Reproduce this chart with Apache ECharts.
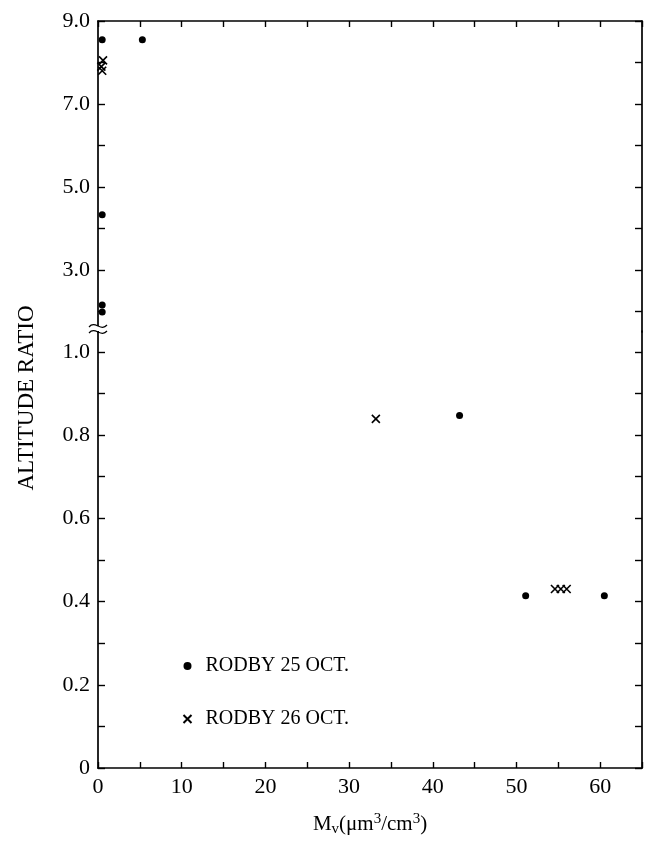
<!DOCTYPE html>
<html>
<head>
<meta charset="utf-8">
<script src="https://cdn.jsdelivr.net/npm/echarts@6/dist/echarts.min.js"></script>
<style>
  html, body { margin: 0; padding: 0; background: #fff; }
  #main { width: 649px; height: 843px; }
</style>
</head>
<body>
<div id="main"></div>
<script>
// 数据
const oct25X = [0.5, 5.3, 0.5, 0.5, 0.5, 43.2, 51.1, 60.5]
const oct25Y = [8.55, 8.55, 4.33, 2.15, 1.98, 0.847, 0.414, 0.414]
const oct26X = [0.6, 0.4, 0.5, 33.2, 54.6, 55.3, 56.0]
const oct26Y = [8.05, 7.9, 7.8, 0.839, 0.43, 0.43, 0.43]

const xLabels = [0, 10, 20, 30, 40, 50, 60]
const lowTicks = [0, 0.1, 0.2, 0.3, 0.4, 0.5, 0.6, 0.7, 0.8, 0.9, 1.0]
const lowLabels = [0, 0.2, 0.4, 0.6, 0.8, 1.0]
const highTicks = [2, 3, 4, 5, 6, 7, 8, 9]
const highLabels = [3, 5, 7, 9]

const names = ['RODBY 25 OCT.', 'RODBY 26 OCT.']
const crossPath = 'path://M0,0L10,10M10,0L0,10'
const serif = 'Liberation Serif'
const breakAt = 1.05

const toPairs = (xs, ys, upper) => xs.map((x, i) => [x, ys[i]]).filter(p => upper ? p[1] > breakAt : p[1] <= breakAt)

const lineStyle = { color: '#000', width: 1.7 }
const tickStyle = { color: '#000', width: 1.4 }
const fmt = v => v === 0 ? '0' : Number(v).toFixed(1)
const tickFont = { color: '#000', fontFamily: serif, fontSize: 22 }

const chart = echarts.init(document.getElementById('main'), null, { renderer: 'canvas' })

const grids = [
  { left: 98, right: 7, top: 21, height: 311 },
  { left: 98, right: 7, top: 331, height: 437 }
]

const xAxisBase = {
  type: 'value', min: 0, max: 65, interval: 5,
  splitLine: { show: false },
  axisLine: { show: true, lineStyle },
  axisTick: { inside: true, length: 6, lineStyle: tickStyle }
}

const dotStyle = { color: '#000', opacity: 1 }
const crossStyle = { color: 'none', borderColor: '#000', borderWidth: 1.6, opacity: 1 }

const option = {
  animation: false,
  backgroundColor: '#fff',
  grid: grids,
  xAxis: [
    { ...xAxisBase, gridIndex: 0, position: 'top', axisLabel: { show: false } },
    {
      ...xAxisBase, gridIndex: 1, position: 'bottom',
      axisLabel: { customValues: xLabels, margin: 8, ...tickFont },
      name: 'M{sub|v}(μm{sup|3}/cm{sup|3})',
      nameLocation: 'middle', nameGap: 44,
      nameTextStyle: {
        color: '#000', fontFamily: serif, fontSize: 21,
        rich: {
          sub: { fontFamily: serif, fontSize: 15, color: '#000', padding: [10, 0, 0, 0] },
          sup: { fontFamily: serif, fontSize: 15, color: '#000', padding: [0, 0, 10, 0] }
        }
      }
    }
  ],
  yAxis: [
    {
      type: 'value', gridIndex: 0, min: 1.5, max: 9, position: 'left',
      splitLine: { show: false },
      axisLine: { show: true, lineStyle },
      axisTick: { inside: true, length: 7, customValues: highTicks, lineStyle: tickStyle },
      axisLabel: { customValues: highLabels, formatter: fmt, margin: 8, ...tickFont }
    },
    {
      type: 'value', gridIndex: 1, min: 0, max: breakAt, position: 'left',
      splitLine: { show: false },
      axisLine: { show: true, lineStyle },
      axisTick: { inside: true, length: 7, customValues: lowTicks, lineStyle: tickStyle },
      axisLabel: { customValues: lowLabels, formatter: fmt, margin: 8, ...tickFont }
    },
    {
      type: 'value', gridIndex: 0, min: 1.5, max: 9, position: 'right',
      splitLine: { show: false },
      axisLine: { show: true, lineStyle },
      axisTick: { inside: true, length: 7, customValues: highTicks, lineStyle: tickStyle },
      axisLabel: { show: false }
    },
    {
      type: 'value', gridIndex: 1, min: 0, max: breakAt, position: 'right',
      splitLine: { show: false },
      axisLine: { show: true, lineStyle },
      axisTick: { inside: true, length: 7, customValues: lowTicks, lineStyle: tickStyle },
      axisLabel: { show: false }
    }
  ],
  legend: {
    data: names,
    orient: 'vertical',
    left: 176, top: 651,
    itemWidth: 8, itemHeight: 8, itemGap: 33,
    textStyle: { color: '#000', fontFamily: serif, fontSize: 20, lineHeight: 20, padding: [0, 0, 0, 9] }
  },
  series: [
    {
      name: names[0], type: 'scatter', xAxisIndex: 0, yAxisIndex: 0,
      symbol: 'circle', symbolSize: 7, itemStyle: dotStyle,
      data: toPairs(oct25X, oct25Y, true)
    },
    {
      name: names[0], type: 'scatter', xAxisIndex: 1, yAxisIndex: 1,
      symbol: 'circle', symbolSize: 7, itemStyle: dotStyle,
      data: toPairs(oct25X, oct25Y, false)
    },
    {
      name: names[1], type: 'scatter', xAxisIndex: 0, yAxisIndex: 0,
      symbol: crossPath, symbolSize: 8, itemStyle: crossStyle,
      data: toPairs(oct26X, oct26Y, true)
    },
    {
      name: names[1], type: 'scatter', xAxisIndex: 1, yAxisIndex: 1,
      symbol: crossPath, symbolSize: 8, itemStyle: crossStyle,
      data: toPairs(oct26X, oct26Y, false)
    }
  ],
  graphic: [
    // y轴标题
    {
      type: 'text', x: 27, y: 398, rotation: Math.PI / 2,
      style: { text: 'ALTITUDE RATIO', fill: '#000', font: '23px "Liberation Serif"', textAlign: 'center', textVerticalAlign: 'middle' }
    },
    // axis break mark
    { type: 'rect', shape: { x: 94, y: 326, width: 8, height: 5 }, style: { fill: '#fff' }, z: 100 },
    {
      type: 'bezierCurve', z: 101,
      shape: { x1: 89, y1: 327, x2: 107, y2: 325, cpx1: 95, cpy1: 320, cpx2: 101, cpy2: 332 },
      style: { stroke: '#000', lineWidth: 1.2, fill: 'none' }
    },
    {
      type: 'bezierCurve', z: 101,
      shape: { x1: 89, y1: 333, x2: 107, y2: 331, cpx1: 95, cpy1: 326, cpx2: 101, cpy2: 338 },
      style: { stroke: '#000', lineWidth: 1.2, fill: 'none' }
    }
  ]
}

chart.setOption(option)
</script>
</body>
</html>
